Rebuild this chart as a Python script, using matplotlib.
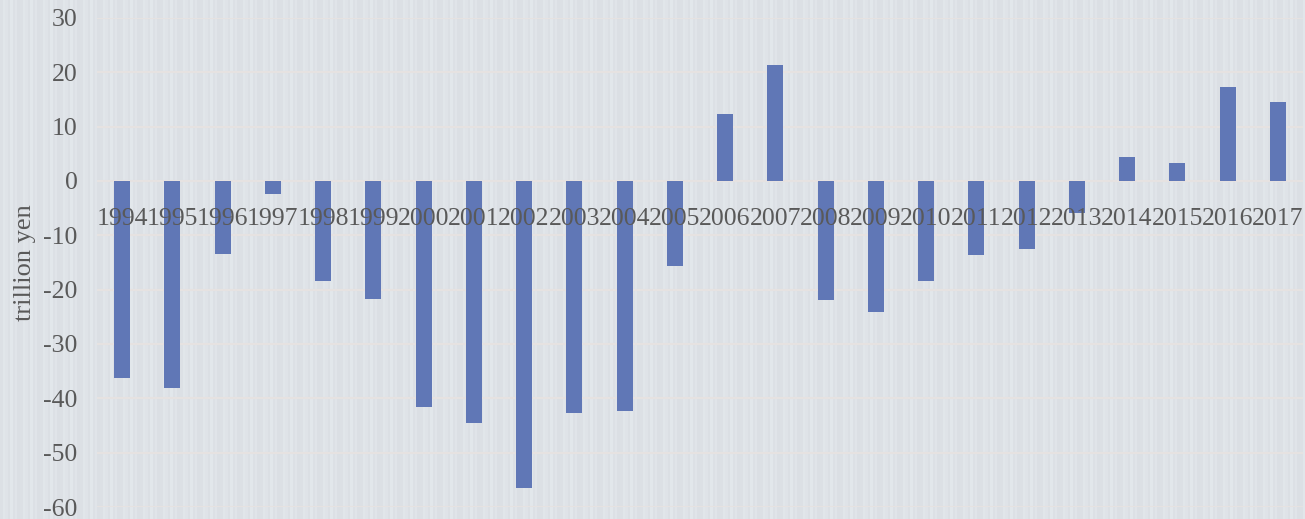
import numpy as np
import matplotlib.pyplot as plt

# Values (trillion yen)
years = ['1994', '1995', '1996', '1997', '1998', '1999', '2000', '2001',
         '2002', '2003', '2004', '2005', '2006', '2007', '2008', '2009',
         '2010', '2011', '2012', '2013', '2014', '2015', '2016', '2017']
values = [-36.3, -38.1, -13.4, -2.4, -18.4, -21.7, -41.6, -44.5,
          -56.5, -42.7, -42.3, -15.6, 12.3, 21.4, -21.9, -24.1,
          -18.4, -13.6, -12.5, -5.9, 4.4, 3.3, 17.3, 14.5]
y_ticks = [30, 20, 10, 0, -10, -20, -30, -40, -50, -60]

plt.rcParams['font.family'] = ['Liberation Serif', 'DejaVu Serif']
plt.rcParams['axes.unicode_minus'] = False
text_col = '#595959'

fig = plt.figure(figsize=(13.05, 5.19), dpi=100)

# striped backdrop (purely decorative)
shades = [0.0, 0.0, 0.0, 0.02, 0.02, 0.01, 0.01, 0.01, -0.005, -0.005,
          0.025, 0.025, 0.025, 0.0, 0.0, 0.015, 0.015, -0.005, -0.005, -0.005]
cols = np.tile(shades, 1305 // len(shades) + 1)[:1305]
bg = np.zeros((519, 1305, 3))
bg[:, :, 0] = 0.865 + cols[None, :]
bg[:, :, 1] = 0.882 + cols[None, :]
bg[:, :, 2] = 0.900 + cols[None, :]
fig.figimage(np.clip(bg, 0, 1), 0, 0, zorder=0)

ax = fig.add_axes([97 / 1305, 12 / 519, 1206 / 1305, 489 / 519])
ax.set_zorder(2)
ax.patch.set_alpha(0)

# gridlines under the bars, tick labels over them
for v in y_ticks:
    ax.axhline(v, color='#e6e2e1', linewidth=1.5, zorder=1)

x = np.arange(len(years))
ax.bar(x, values, width=0.32, color='#6077b6', zorder=2)
ax.set_axisbelow(False)

ax.set_xlim(-0.5, len(years) - 0.5)
ax.set_ylim(-60, 30)
ax.set_yticks(y_ticks)
ax.set_yticklabels([str(v) for v in y_ticks])

for s in ax.spines.values():
    s.set_visible(False)
ax.spines['bottom'].set_position(('data', 0))

ax.set_xticks(x)
ax.set_xticklabels(years)
ax.tick_params(axis='x', length=0, pad=19.5, labelsize=18.5, colors=text_col)
ax.tick_params(axis='y', length=0, pad=14, labelsize=18.5, colors=text_col)

ax.set_ylabel('trillion yen', fontsize=19, color=text_col, labelpad=5)

fig.savefig('out.png', dpi=100)
